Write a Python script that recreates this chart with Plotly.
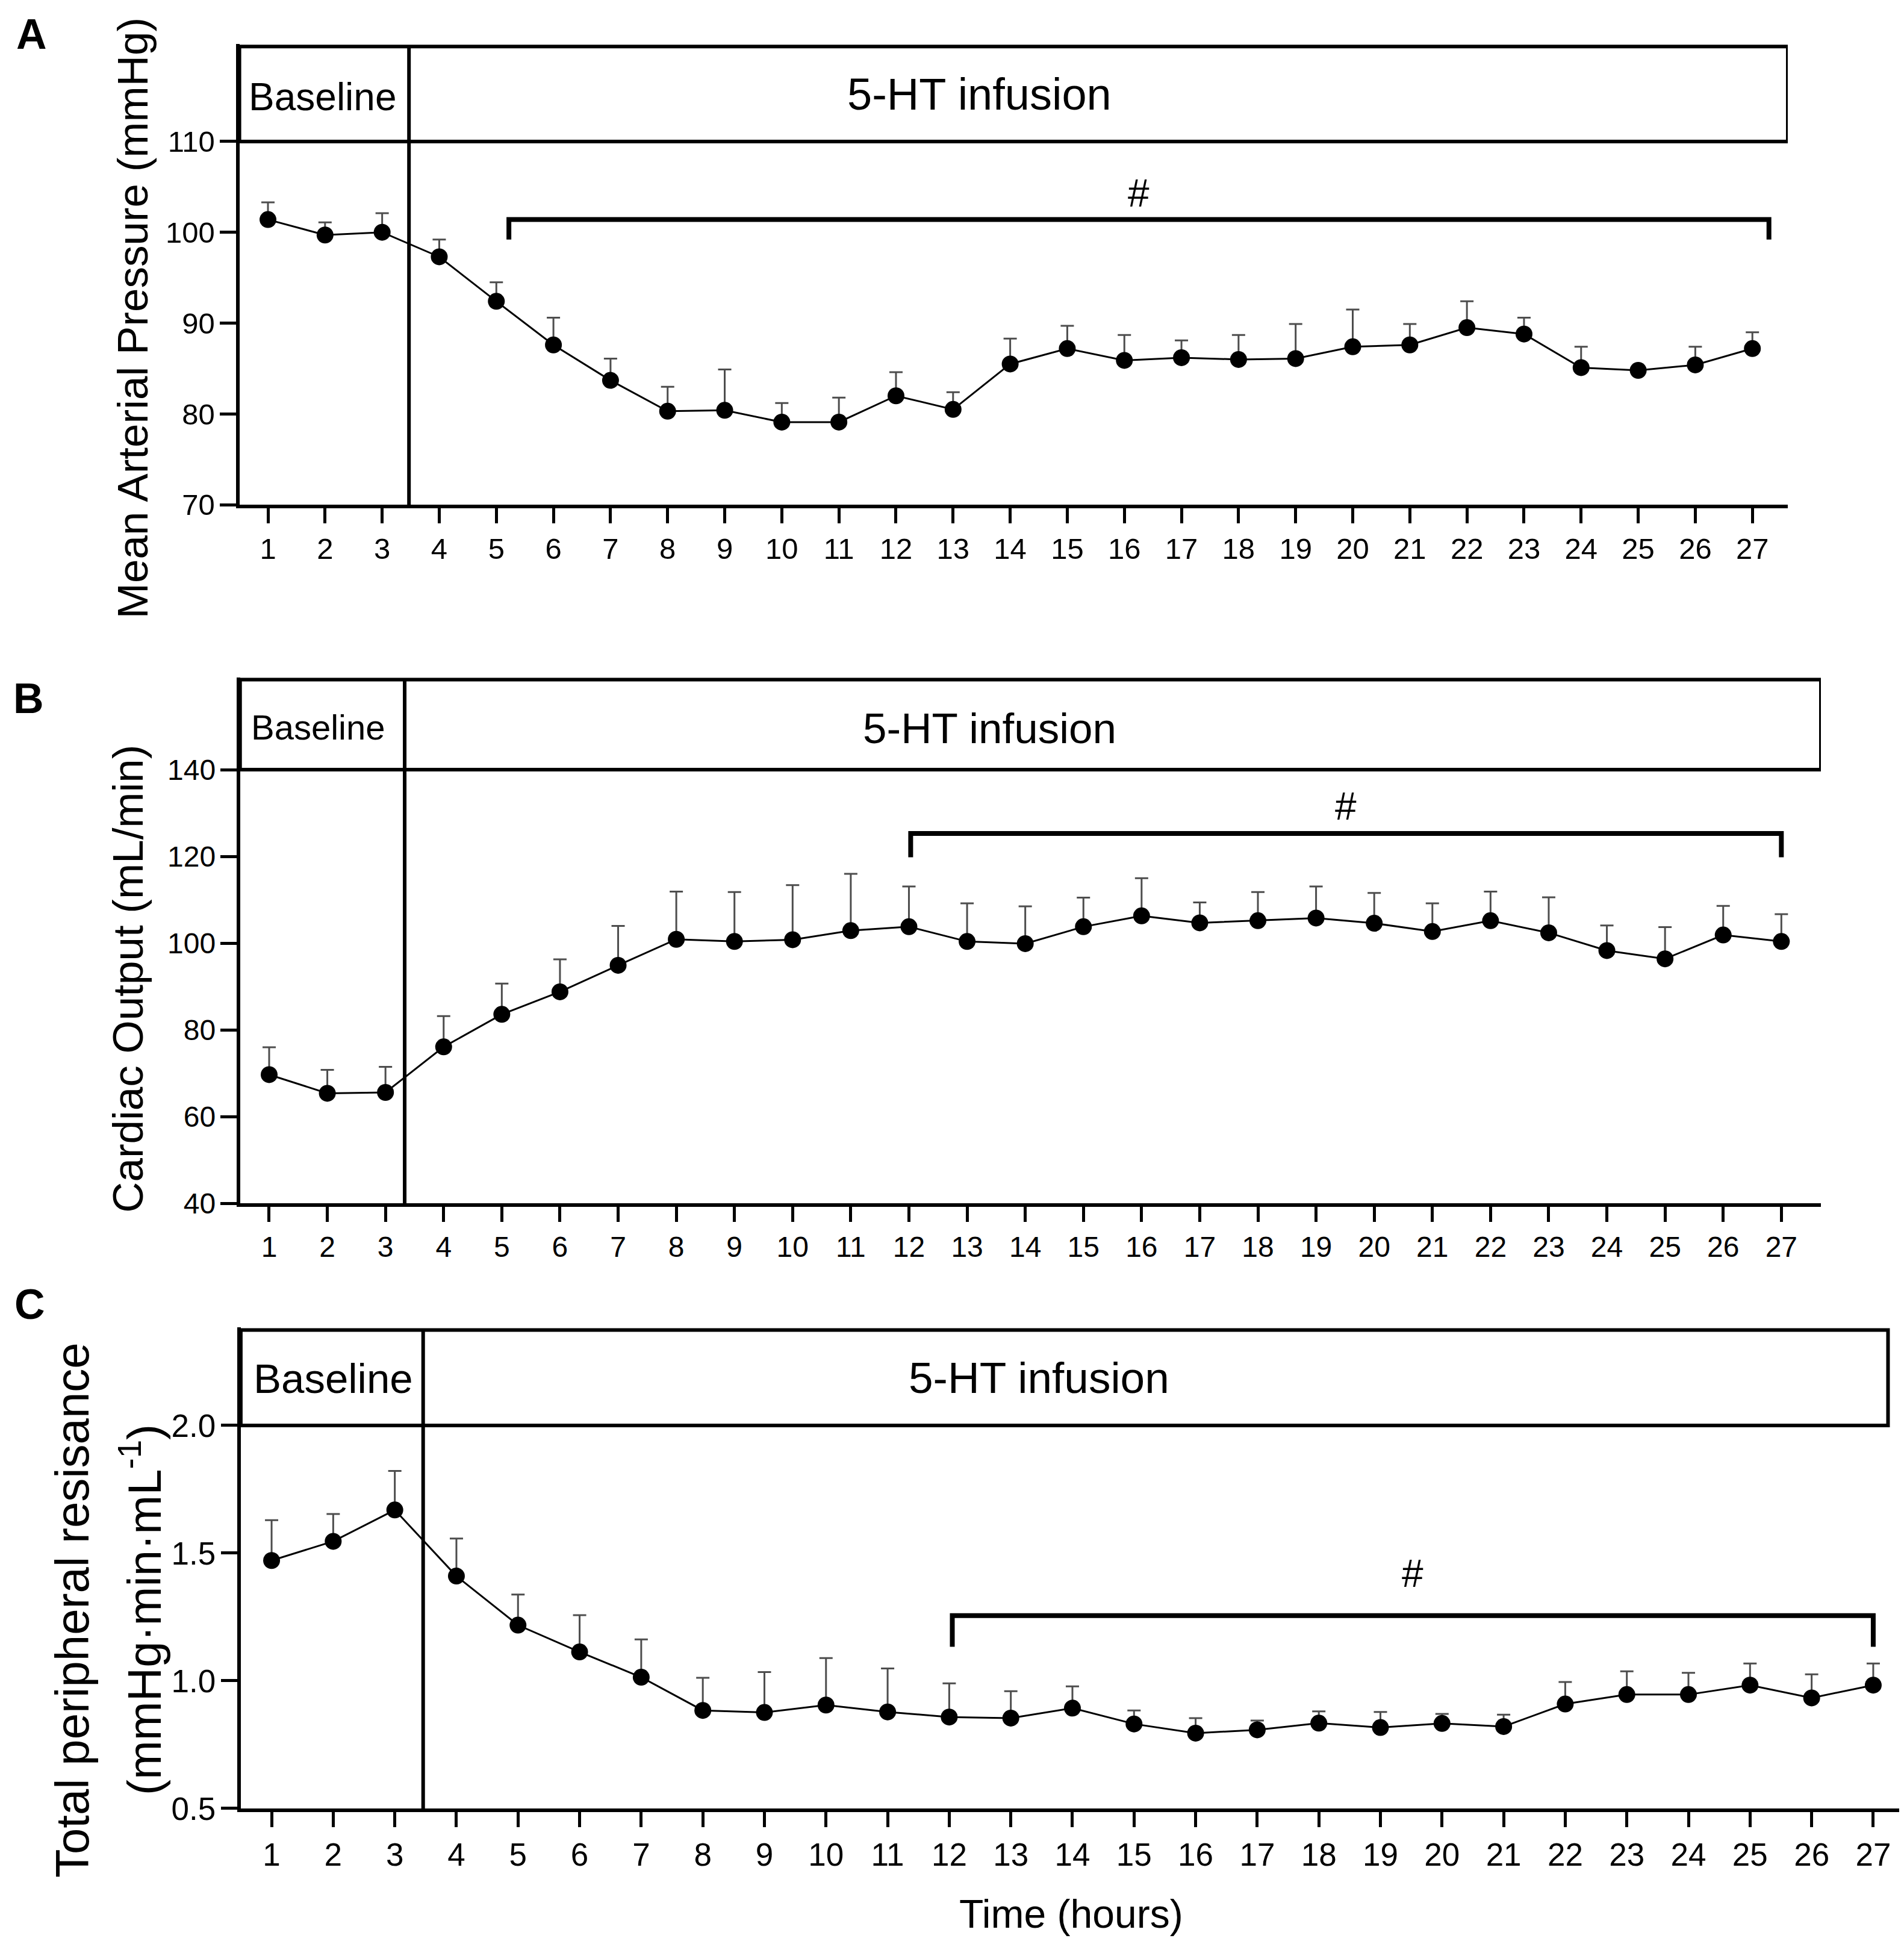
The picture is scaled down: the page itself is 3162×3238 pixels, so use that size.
import plotly.graph_objects as go

# figure size (px)
W, H = 3162, 3238
FONT = 'Arial, Liberation Sans, sans-serif'

hours = list(range(1, 28))
y_ticks_a = [70, 80, 90, 100, 110]
y_ticks_b = [40, 60, 80, 100, 120, 140]
y_ticks_c = [0.5, 1.0, 1.5, 2.0]
y_ticklabels_c = ['0.5', '1.0', '1.5', '2.0']

# A: mean arterial pressure (mmHg), mean and SEM
map_mean = [101.4, 99.7, 100.0, 97.3, 92.4, 87.6, 83.7, 80.3, 80.4, 79.1, 79.1, 82.0, 80.5, 85.5,
            87.2, 85.9, 86.2, 86.0, 86.1, 87.4, 87.6, 89.5, 88.8, 85.1, 84.8, 85.4, 87.2]
map_sem = [1.9, 1.4, 2.1, 1.9, 2.1, 3.0, 2.4, 2.7, 4.5, 2.1, 2.7, 2.6, 1.9, 2.8,
           2.5, 2.8, 1.9, 2.7, 3.8, 4.1, 2.3, 2.9, 1.8, 2.3, None, 2.0, 1.8]

# B: cardiac output (mL/min)
co_mean = [69.7, 65.4, 65.6, 76.1, 83.6, 88.8, 94.9, 100.9, 100.4, 100.8, 102.9, 103.8, 100.4, 99.9,
           103.8, 106.3, 104.7, 105.2, 105.8, 104.6, 102.7, 105.2, 102.4, 98.3, 96.4, 101.9, 100.4]
co_sem = [6.3, 5.4, 5.9, 7.1, 7.1, 7.5, 9.1, 11.0, 11.4, 12.6, 13.1, 9.3, 8.8, 8.6,
          6.7, 8.7, 4.7, 6.6, 7.3, 7.0, 6.5, 6.7, 8.2, 5.8, 7.3, 6.7, 6.3]

# C: total peripheral resistance
tpr_mean = [1.471, 1.546, 1.669, 1.410, 1.218, 1.113, 1.014, 0.884, 0.876, 0.905, 0.878, 0.858, 0.854, 0.893,
            0.831, 0.795, 0.808, 0.834, 0.817, 0.833, 0.821, 0.909, 0.946, 0.946, 0.983, 0.933, 0.983]
tpr_sem = [0.158, 0.107, 0.153, 0.147, 0.120, 0.144, 0.148, 0.128, 0.158, 0.184, 0.170, 0.132, 0.105, 0.085,
           0.053, 0.059, 0.036, 0.046, 0.061, 0.037, 0.046, 0.086, 0.091, 0.085, 0.085, 0.092, 0.085]

# significance brackets: (start hour, end hour, bar level, drop level, label level)
bracket_a = (5.22, 27.29, 101.4, 99.2, 104.3)
bracket_b = (12.03, 27.0, 125.3, 119.8, 131.5)
bracket_c = (12.05, 27.0, 1.255, 1.133, 1.42)


def px_x(p):
    return p / W


def px_y(p):
    return 1 - p / H


def add_panel(fig, n, mean, sem, dom_x, dom_y, x_range, y_range, y_ticks, y_ticklabels, box_top, box_right,
              split, bracket, tick_size, base_label, infusion_label):
    """one panel: line with SEM bars, phase box, significance bracket"""
    xa = 'x' if n == 1 else f'x{n}'
    ya = 'y' if n == 1 else f'y{n}'
    fig.add_trace(go.Scatter(
        x=hours, y=mean, mode='lines+markers', xaxis=xa, yaxis=ya,
        line=dict(color='black', width=3),
        marker=dict(color='black', size=28),
        error_y=dict(type='data', symmetric=False, array=sem, arrayminus=[0] * len(sem),
                     color='#4d4d4d', thickness=3, width=11),
        showlegend=False, cliponaxis=False))
    ax = dict(showline=True, linecolor='black', linewidth=6, ticks='outside', tickwidth=5,
              tickcolor='black', showgrid=False, zeroline=False,
              tickfont=dict(family=FONT, size=tick_size, color='black'))
    fig.update_layout({
        f'xaxis{"" if n == 1 else n}': dict(ax, domain=dom_x, range=x_range, anchor=ya,
                                            tickvals=hours, ticklen=25),
        f'yaxis{"" if n == 1 else n}': dict(ax, domain=dom_y, range=y_range, anchor=xa,
                                            tickvals=y_ticks, ticktext=y_ticklabels, ticklen=27,
                                            ticklabelstandoff=-2),
    })
    top = y_ticks[-1]
    line = dict(color='black', width=6)
    # phase box and split line
    fig.add_shape(type='rect', xref=xa, yref=ya, x0=x_range[0], x1=box_right, y0=top, y1=box_top, line=line)
    fig.add_shape(type='line', xref=xa, yref=ya, x0=split, x1=split, y0=y_range[0], y1=box_top, line=line)
    fig.add_annotation(xref=xa, yref=ya, x=base_label[0], y=(top + box_top) / 2 + base_label[2], text='Baseline',
                       showarrow=False, font=dict(family=FONT, size=base_label[1], color='black'))
    fig.add_annotation(xref=xa, yref=ya, x=infusion_label[0], y=(top + box_top) / 2 + infusion_label[2],
                       text='5-HT infusion', showarrow=False,
                       font=dict(family=FONT, size=infusion_label[1], color='black'))
    # bracket
    x0, x1, yb, yd, yl = bracket
    fig.add_trace(go.Scatter(x=[x0, x0, x1, x1], y=[yd, yb, yb, yd], mode='lines', xaxis=xa, yaxis=ya,
                             line=dict(color='black', width=8), showlegend=False, hoverinfo='skip'))
    fig.add_annotation(xref=xa, yref=ya, x=(x0 + x1) / 2, y=yl, text='#', showarrow=False,
                       font=dict(family=FONT, size=64, color='black'))


def add_text(fig, x, y, text, size, angle=0):
    """text placed by figure pixel (centre)"""
    fig.add_annotation(xref='paper', yref='paper', x=px_x(x), y=px_y(y), text=text, textangle=angle,
                       xanchor='center', yanchor='middle', showarrow=False,
                       font=dict(family=FONT, size=size, color='black'))


fig = go.Figure()

add_panel(fig, 1, map_mean, map_sem,
          dom_x=[px_x(389.6), px_x(2961)], dom_y=[px_y(838), px_y(66)],
          x_range=[0.5, 27.62], y_range=[70, 110 + (229 - 66) / 15.225],
          y_ticks=y_ticks_a, y_ticklabels=[str(v) for v in y_ticks_a],
          box_top=110 + (229 - 70) / 15.225, box_right=27.62, split=3.47,
          bracket=bracket_a, tick_size=49, base_label=(1.96, 64, -0.3), infusion_label=(13.46, 74, 0))

add_panel(fig, 2, co_mean, co_sem,
          dom_x=[px_x(390.7), px_x(3016)], dom_y=[px_y(2009), px_y(1127)],
          x_range=[0.5, 27.68], y_range=[40, 140 + (1282 - 1127) / 7.27],
          y_ticks=y_ticks_b, y_ticklabels=[str(v) for v in y_ticks_b],
          box_top=140 + (1282 - 1131) / 7.27, box_right=27.68, split=3.33,
          bracket=bracket_b, tick_size=48, base_label=(1.84, 58, -0.6), infusion_label=(13.39, 71, -0.8))

add_panel(fig, 3, tpr_mean, tpr_sem,
          dom_x=[px_x(391.9), px_x(3151)], dom_y=[px_y(3023), px_y(2217)],
          x_range=[0.5, 27.47], y_range=[0.5, 2.0 + (2381 - 2217) / 428],
          y_ticks=y_ticks_c, y_ticklabels=y_ticklabels_c,
          box_top=2.0 + (2381 - 2221) / 428, box_right=27.24, split=3.46,
          bracket=bracket_c, tick_size=53, base_label=(2.0, 69, -0.005), infusion_label=(13.46, 73, 0.0))

# axis titles
add_text(fig, 212, 525, 'Mean Arterial Pressure (mmHg)', 71, -90)
add_text(fig, 205, 1633, 'Cardiac Output (mL/min)', 71, -90)
add_text(fig, 112, 2691, 'Total peripheral resisance', 78, -90)
add_text(fig, 226, 2690, '(mmHg·min·mL<sup>-1</sup>)', 78, -90)
add_text(fig, 1771, 3200, 'Time (hours)', 66)

# panel letters
for letter, (lx, ly) in zip(['A', 'B', 'C'], [(44, 49), (39, 1163), (41, 2178)]):
    add_text(fig, lx, ly, f'<b>{letter}</b>', 70)

fig.update_layout(width=W, height=H, margin=dict(l=0, r=0, t=0, b=0),
                  paper_bgcolor='white', plot_bgcolor='white', showlegend=False)

fig.write_html('out.html')
